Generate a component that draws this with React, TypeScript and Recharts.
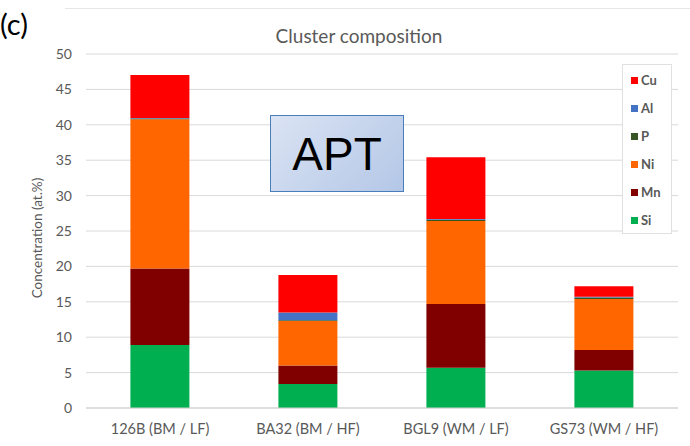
import { BarChart, Bar, XAxis, YAxis, CartesianGrid } from "recharts";

const categories = ["126B (BM / LF)", "BA32 (BM / HF)", "BGL9 (WM / LF)", "GS73 (WM / HF)"];
const si = [8.9, 3.4, 5.7, 5.3];
const mn = [10.8, 2.6, 9.0, 2.9];
const ni = [21.1, 6.3, 11.7, 7.2];
const p = [0.1, 0.1, 0.2, 0.2];
const al = [0.05, 1.1, 0.1, 0.1];
const cu = [6.1, 5.3, 8.7, 1.5];
const yTicks = [0, 5, 10, 15, 20, 25, 30, 35, 40, 45, 50];

// stacking order bottom -> top
const series = [
    { key: "Si", values: si, color: "#00b050" },
    { key: "Mn", values: mn, color: "#800000" },
    { key: "Ni", values: ni, color: "#ff6600" },
    { key: "P", values: p, color: "#375623" },
    { key: "Al", values: al, color: "#4472c4" },
    { key: "Cu", values: cu, color: "#ff0000" },
];

const data = categories.map((name, i) => {
    const row: Record<string, string | number> = { name };
    series.forEach((s) => {
        row[s.key] = s.values[i];
    });
    return row;
});

const font = "Lato, 'Open Sans', sans-serif";
const grey = "#595959";

export default function App() {
    return (
        <div style={{ position: "absolute", left: 0, top: 0, width: 690, height: 446, background: "#fff", fontFamily: font }}>
            <div style={{ position: "absolute", left: 65, top: 8, width: 625, borderTop: "1px solid #e6e6e6" }} />
            <BarChart
                width={690}
                height={446}
                data={data}
                margin={{ top: 54, right: 12, bottom: 8, left: 0 }}
                barCategoryGap="30%"
            >
                <CartesianGrid vertical={false} stroke="#d9d9d9" />
                <XAxis
                    dataKey="name"
                    height={30}
                    axisLine={{ stroke: "#d0d0d0" }}
                    tickLine={false}
                    tickSize={0}
                    tickMargin={16}
                    tick={{ fontSize: 14.5, fill: grey, fontFamily: font }}
                />
                <YAxis
                    width={86}
                    domain={[0, 50]}
                    ticks={yTicks}
                    axisLine={false}
                    tickLine={false}
                    tickSize={0}
                    tickMargin={14}
                    tick={{ fontSize: 14, fill: grey, fontFamily: font }}
                />
                {series.map((s) => (
                    <Bar key={s.key} dataKey={s.key} stackId="a" fill={s.color} isAnimationActive={false} />
                ))}
            </BarChart>
            <div style={{ position: "absolute", left: 0, top: 4, fontSize: 29, color: "#000", lineHeight: "40px" }}>(c)</div>
            <div style={{ position: "absolute", left: 249, top: 24, width: 220, textAlign: "center", fontSize: 19, color: grey, lineHeight: "24px" }}>
                Cluster composition
            </div>
            <div
                style={{
                    position: "absolute",
                    left: 37,
                    top: 238,
                    transform: "translate(-50%, -50%) rotate(-90deg)",
                    whiteSpace: "nowrap",
                    fontSize: 13.5,
                    color: grey,
                }}
            >
                Concentration (at.%)
            </div>
            <div
                style={{
                    position: "absolute",
                    left: 270,
                    top: 115,
                    width: 132,
                    height: 75,
                    border: "1.5px solid #4a7ebb",
                    background: "linear-gradient(135deg, #dae3f3 0%, #b4c7e7 100%)",
                    display: "flex",
                    alignItems: "center",
                    justifyContent: "center",
                    fontFamily: "'Liberation Sans', Arial, sans-serif",
                    fontSize: 46,
                    color: "#000",
                }}
            >
                APT
            </div>
            <div
                style={{
                    position: "absolute",
                    left: 622,
                    top: 64,
                    width: 48,
                    height: 168,
                    border: "1px solid #e0e0e0",
                    background: "#fff",
                }}
            >
                {[...series].reverse().map((s, i) => (
                    <div
                        key={s.key}
                        style={{
                            position: "absolute",
                            left: 8,
                            top: 7 + i * 28,
                            display: "flex",
                            alignItems: "center",
                            fontSize: 13,
                            fontWeight: 700,
                            color: grey,
                            lineHeight: "16px",
                        }}
                    >
                        <span style={{ width: 7, height: 7, background: s.color, marginRight: 3, display: "inline-block" }} />
                        {s.key}
                    </div>
                ))}
            </div>
        </div>
    );
}
